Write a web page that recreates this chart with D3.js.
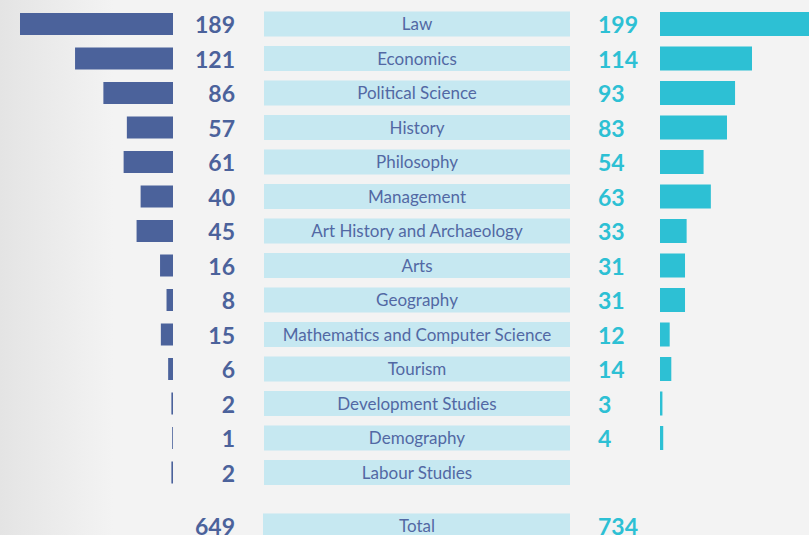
<!DOCTYPE html>
<html>
<head>
<meta charset="utf-8">
<script src="https://cdn.jsdelivr.net/npm/d3@7"></script>
<style>
  body { margin: 0; overflow: hidden; }
  svg { display: block; }
</style>
</head>
<body>
<div id="chart"></div>
<script>
const categories = ["Law", "Economics", "Political Science", "History", "Philosophy", "Management",
  "Art History and Archaeology", "Arts", "Geography", "Mathematics and Computer Science",
  "Tourism", "Development Studies", "Demography", "Labour Studies"];
const leftValues = [189, 121, 86, 57, 61, 40, 45, 16, 8, 15, 6, 2, 1, 2];
const rightValues = [199, 114, 93, 83, 54, 63, 33, 31, 31, 12, 14, 3, 4, null];
const totalLabel = "Total";
const leftTotal = 649;
const rightTotal = 734;

const width = 809, height = 535;
const leftColor = "#4b629b";
const rightColor = "#2dc0d4";
const boxColor = "#c6e8f1";
const labelColor = "#5268a4";

const svg = d3.select("#chart").append("svg")
  .attr("width", width)
  .attr("height", height);

// background, a bit darker at the left edge
const grad = svg.append("defs").append("linearGradient")
  .attr("id", "bg").attr("x1", "0").attr("x2", "1").attr("y1", "0").attr("y2", "0");
grad.append("stop").attr("offset", "0").attr("stop-color", "#e4e4e4");
grad.append("stop").attr("offset", "0.14").attr("stop-color", "#f3f3f3");
grad.append("stop").attr("offset", "1").attr("stop-color", "#f3f3f3");
svg.append("rect").attr("width", width).attr("height", height).attr("fill", "url(#bg)");

// row index -> center y; total sits after a gap
const y = d3.scaleLinear().domain([0, 13]).range([24, 472.5]);
const totalRow = 14.55;

// same units-per-pixel on both sides
const xLeft = d3.scaleLinear().domain([0, 189]).range([173, 20]);
const xRight = d3.scaleLinear().domain([0, 114]).range([660, 752]);

const rows = categories.map((c, i) => ({ name: c, left: leftValues[i], right: rightValues[i], i }));

const g = svg.append("g");

// center label boxes
g.selectAll(".box")
  .data(rows)
  .enter().append("rect")
  .attr("x", 264)
  .attr("y", d => y(d.i) - 12.5)
  .attr("width", 306)
  .attr("height", 25)
  .attr("fill", boxColor);

g.selectAll(".cat")
  .data(rows)
  .enter().append("text")
  .attr("x", 417)
  .attr("y", d => y(d.i) + 6)
  .attr("text-anchor", "middle")
  .style("font-family", "Lato, sans-serif")
  .style("font-size", "17px")
  .attr("fill", labelColor)
  .text(d => d.name);

// left bars
g.selectAll(".lbar")
  .data(rows)
  .enter().append("rect")
  .attr("x", d => xLeft(d.left))
  .attr("y", d => y(d.i) - 11)
  .attr("width", d => xLeft(0) - xLeft(d.left))
  .attr("height", 22)
  .attr("fill", leftColor);

g.selectAll(".lnum")
  .data(rows)
  .enter().append("text")
  .attr("x", 235)
  .attr("y", d => y(d.i) + 9)
  .attr("text-anchor", "end")
  .style("font-family", "Lato, sans-serif")
  .style("font-weight", "bold")
  .style("font-size", "23px")
  .attr("fill", leftColor)
  .text(d => d.left);

// right bars
const rrows = rows.filter(d => d.right != null);
g.selectAll(".rbar")
  .data(rrows)
  .enter().append("rect")
  .attr("x", xRight(0))
  .attr("y", d => y(d.i) - 12)
  .attr("width", d => xRight(d.right) - xRight(0))
  .attr("height", 24)
  .attr("fill", rightColor);

g.selectAll(".rnum")
  .data(rrows)
  .enter().append("text")
  .attr("x", 598)
  .attr("y", d => y(d.i) + 9)
  .attr("text-anchor", "start")
  .style("font-family", "Lato, sans-serif")
  .style("font-weight", "bold")
  .style("font-size", "23px")
  .attr("fill", rightColor)
  .text(d => d.right);

// total row
g.append("rect")
  .attr("x", 263)
  .attr("y", y(totalRow) - 12.5)
  .attr("width", 307)
  .attr("height", 25)
  .attr("fill", boxColor);
g.append("text")
  .attr("x", 417)
  .attr("y", y(totalRow) + 6)
  .attr("text-anchor", "middle")
  .style("font-family", "Lato, sans-serif")
  .style("font-size", "17px")
  .attr("fill", labelColor)
  .text(totalLabel);
g.append("text")
  .attr("x", 235)
  .attr("y", y(totalRow) + 9)
  .attr("text-anchor", "end")
  .style("font-family", "Lato, sans-serif")
  .style("font-weight", "bold")
  .style("font-size", "23px")
  .attr("fill", leftColor)
  .text(leftTotal);
g.append("text")
  .attr("x", 598)
  .attr("y", y(totalRow) + 9)
  .attr("text-anchor", "start")
  .style("font-family", "Lato, sans-serif")
  .style("font-weight", "bold")
  .style("font-size", "23px")
  .attr("fill", rightColor)
  .text(rightTotal);
</script>
</body>
</html>
